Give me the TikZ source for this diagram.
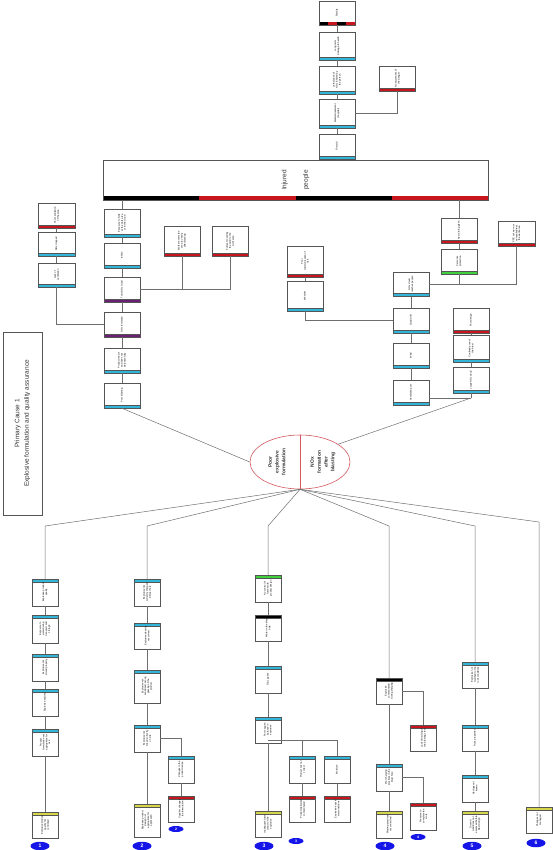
\documentclass[tikz,border=0pt]{standalone}
\usepackage{fontspec}
\setmainfont{Liberation Sans}
\usetikzlibrary{shapes.geometric,calc}

\definecolor{boxline}{HTML}{555555}
\definecolor{wiregray}{HTML}{6E6E6E}
\definecolor{barblue}{HTML}{33B5D9}
\definecolor{barred}{HTML}{C8161E}
\definecolor{barpurple}{HTML}{6B1F75}
\definecolor{bargreen}{HTML}{3FCF3F}
\definecolor{baryellow}{HTML}{D6D64A}
\definecolor{badge}{HTML}{1515E8}
\definecolor{ellred}{HTML}{D0585E}
\definecolor{textgray}{HTML}{333333}

\newcommand{\rt}[1]{\rotatebox{90}{\parbox{19pt}{\centering #1}}}

\tikzset{
  evt/.style={draw=boxline, line width=0.5pt, fill=white, inner sep=0pt,
    minimum width=36pt, minimum height=25pt, font=\fontsize{2.4}{2.9}\selectfont},
  low/.style={evt, minimum width=26pt, minimum height=27pt},
  barlow/.style={path picture={
    \fill[#1] (path picture bounding box.south west) rectangle ([yshift=3pt]path picture bounding box.south east);
    \draw[boxline, line width=0.3pt] ([yshift=3pt]path picture bounding box.south west) -- ([yshift=3pt]path picture bounding box.south east);}},
  bartop/.style={path picture={
    \fill[#1] (path picture bounding box.north west) rectangle ([yshift=-3pt]path picture bounding box.north east);
    \draw[boxline, line width=0.3pt] ([yshift=-3pt]path picture bounding box.north west) -- ([yshift=-3pt]path picture bounding box.north east);}},
  mixbar/.style={path picture={
    \foreach \i/\c in {0/black,1/barred,2/black,3/barred}
      \fill[\c] ($(path picture bounding box.south west)!\i/4!(path picture bounding box.south east)$) rectangle
        ($(path picture bounding box.south west)!{(\i+1)/4}!(path picture bounding box.south east)+(0pt,#1)$);}},
  wire/.style={draw=wiregray, line width=0.5pt},
  num/.style={ellipse, fill=badge, inner sep=0pt, minimum width=19pt, minimum height=8.5pt,
    text=white, font=\fontsize{5}{5}\selectfont\bfseries},
  subnum/.style={num, minimum width=15pt, minimum height=6pt, font=\fontsize{3.5}{3.5}\selectfont\bfseries},
}

\begin{document}
\begin{tikzpicture}[x=1pt,y=-1pt]
\useasboundingbox (0,0) rectangle (552,850);

% Primary cause
\node[draw=boxline, line width=0.6pt, minimum width=39pt, minimum height=183pt, inner sep=0pt,
  text=textgray, font=\fontsize{6.5}{9.5}\selectfont] (pc) at (22.5,423.5)
  {\rotatebox{90}{\parbox{175pt}{\centering Primary Cause 1\\Explosive formulation and quality assurance}}};

% Consequence chain
\node[evt, mixbar=3pt, minimum height=24pt] (fatal) at (337,13) {\rt{Fatality}};
\node[evt, barlow=barblue, minimum height=28pt] (health) at (337,46) {\rt{Long term damage to health}};
\node[evt, barlow=barblue, minimum height=28pt] (dose) at (337,80) {\rt{Lethal dose of NOx inhaled by the person}};
\node[evt, barlow=barblue, minimum height=29pt] (medic) at (337,113.5) {\rt{Medical treatment (hospital)}};
\node[evt, barlow=barred] (aware) at (397.5,78.5) {\rt{No awareness of the danger}};
\node[evt, barlow=barblue] (aid) at (337,146.5) {\rt{First aid}};

% Injured people
\node[draw=boxline, line width=0.5pt, fill=white, inner sep=0pt, minimum width=385pt, minimum height=38pt,
  mixbar=3.5pt, text=textgray, font=\fontsize{6.5}{7.5}\selectfont] (inj) at (295.5,180)
  {\rotatebox{90}{\parbox{40pt}{\centering Injured\\[14pt]people}}};

% Left branch
\node[evt, barlow=barblue, minimum height=28pt] (a1) at (122,223) {\rt{Exposure to NOx at the work area or in the cloud}};
\node[evt, barlow=barblue] (a2) at (122,255.5) {\rt{Inhale}};
\node[evt, barlow=barpurple] (a3) at (122,289.5) {\rt{Toxic NOx cloud}};
\node[evt, barlow=barpurple] (a4) at (122,324.5) {\rt{NOx formation}};
\node[evt, barlow=barblue] (a5) at (122,360.5) {\rt{Product reacts and does not detonate fully}};
\node[evt, barlow=barblue] (a6) at (122,395.5) {\rt{Poor blasting}};
\node[evt, barlow=barred, minimum height=30pt] (b1) at (182,241) {\rt{Worker enters the area too early after blasting}};
\node[evt, barlow=barred, minimum height=30pt] (b2) at (230,241) {\rt{Fumes moved by the wind to the work area}};
\node[evt, barlow=barred, minimum width=37pt] (c1) at (56.5,215.5) {\rt{Poor ventilation of the area}};
\node[evt, barlow=barblue, minimum width=37pt, minimum height=24pt] (c2) at (56.5,244) {\rt{NOx trapped}};
\node[evt, barlow=barblue, minimum width=37pt, minimum height=24pt] (c3) at (56.5,275) {\rt{Lack of ventilation}};

% Right branch
\node[evt, barlow=barred] (d1) at (459,230.5) {\rt{No warning given}};
\node[evt, barlow=bargreen] (d2) at (459,261.5) {\rt{Personal protection}};
\node[evt, barlow=barred, minimum width=37pt] (d3) at (516.5,233.5) {\rt{PPE not worn or not available at the work area}};
\node[evt, barlow=barblue, minimum height=24pt] (e1) at (411,284.5) {\rt{NOx cloud reaches people}};
\node[evt, barlow=barblue] (e2) at (411,320.5) {\rt{Cloud drift}};
\node[evt, barlow=barblue] (e3) at (411,355.5) {\rt{Wind}};
\node[evt, barlow=barblue] (e4) at (411,392.5) {\rt{Ventilation poor}};
\node[evt, barlow=barred, minimum height=31pt] (f1) at (305,261.5) {\rt{Poor communication of risk}};
\node[evt, barlow=barblue, minimum height=30pt] (f2) at (305,296) {\rt{Weather}};
\node[evt, barlow=barred] (g1) at (471,320.5) {\rt{Poor design}};
\node[evt, barlow=barblue, minimum height=27pt] (g2) at (471,348.5) {\rt{Confined area of the blast}};
\node[evt, barlow=barblue, minimum height=26pt] (g3) at (471,380) {\rt{Large NOx cloud}};
\coordinate (gj) at (471,398);

% Top event
\node[ellipse, draw=ellred, line width=0.6pt, inner sep=0pt, minimum width=100pt, minimum height=54pt] (ell) at (300,462) {};
\node[text=textgray, font=\fontsize{4.9}{6.8}\selectfont\bfseries] (poor) at (277,462)
  {\rotatebox{90}{\parbox{40pt}{\centering Poor\\explosive\\formulation}}};
\node[text=textgray, font=\fontsize{4.9}{6.8}\selectfont\bfseries] (nox) at (323,462)
  {\rotatebox{90}{\parbox{40pt}{\centering NOx\\formation\\after\\blasting}}};

% Cause 1
\node[low, bartop=barblue] (h1) at (45,592.5) {\rt{Explosive product quality}};
\node[low, bartop=barblue, minimum height=28pt] (h2) at (45,629) {\rt{Exposure to water during transport and storage}};
\node[low, bartop=barblue] (h3) at (45,667.5) {\rt{Explosive not stored properly}};
\node[low, bartop=barblue] (h4) at (45,702.5) {\rt{Explosive expired}};
\node[low, bartop=barblue] (h5) at (45,742.5) {\rt{Product formulation not appropriate for use}};
\node[low, bartop=baryellow, minimum height=26pt] (h6) at (45,825) {\rt{Explosive product quality not controlled}};
% Cause 2
\node[low, bartop=barblue] (i1) at (147,592.5) {\rt{Explosive not correctly charged in blast hole}};
\node[low, bartop=barblue, minimum height=26pt] (i2) at (147,636) {\rt{Explosive density not correct}};
\node[low, bartop=barblue, minimum height=33pt] (i3) at (147,686.5) {\rt{Explosive not sensitised, wrong gassing of the product}};
\node[low, bartop=barblue] (i4) at (147,738.5) {\rt{Explosive not mixed correctly on site}};
\node[low, bartop=baryellow, minimum height=33pt] (i5) at (147,820.5) {\rt{Explosive product design not appropriate for application}};
\node[low, bartop=barblue] (j1) at (181,769.5) {\rt{Changes to the product recipe}};
\node[low, bartop=barred, minimum height=26pt] (j2) at (181,809) {\rt{Supplier changes the formulation}};
% Cause 3
\node[low, bartop=bargreen] (k1) at (268,588.5) {\rt{No control of fumes with product design}};
\node[low, bartop=black, minimum height=26pt] (k2) at (268,628) {\rt{Water in the blast hole}};
\node[low, bartop=barblue] (k3) at (268,679.5) {\rt{Toxic gases}};
\node[low, bartop=barblue, minimum height=26pt] (k4) at (268,730) {\rt{Poor oxygen balance in explosive}};
\node[low, bartop=baryellow, minimum height=26pt] (k5) at (268,824) {\rt{Inadequate fume control of the explosive}};
\node[low, bartop=barblue] (l1) at (302.5,769.5) {\rt{Product mix not correct}};
\node[low, bartop=barred, minimum height=26pt] (l2) at (302.5,809) {\rt{Product delivered contaminated}};
\node[low, bartop=barblue] (m1) at (337,769.5) {\rt{Moisture}};
\node[low, bartop=barred, minimum height=26pt] (m2) at (337,809) {\rt{Explosive kept in wet conditions}};
\coordinate (kj) at (268,740);
% Cause 4
\node[low, bartop=black, minimum height=26pt] (n1) at (389,691) {\rt{Explosive contaminated during charging}};
\node[low, bartop=barblue] (n2) at (389,777.5) {\rt{Poor charging practices in the blast hole}};
\node[low, bartop=baryellow] (n3) at (389,824.5) {\rt{Blasting practices not controlled}};
\node[low, bartop=barred, minimum height=26pt] (o1) at (423.5,738) {\rt{Lack of training of the blasting crew}};
\node[low, bartop=barred] (o2) at (423.5,816.5) {\rt{Pressure to complete the work}};
% Cause 5
\node[low, bartop=barblue, minimum height=26pt] (p1) at (475,675) {\rt{Explosive not matched to the rock conditions}};
\node[low, bartop=barblue, minimum height=26pt] (p2) at (475,738) {\rt{Rock properties}};
\node[low, bartop=barblue] (p3) at (475,788.5) {\rt{Geology not known}};
\node[low, bartop=baryellow] (p4) at (475,824.5) {\rt{Ground conditions not assessed before blast design}};
% Cause 6
\node[low, bartop=baryellow, minimum height=26pt] (q1) at (539,820) {\rt{Changes not managed}};

% Numbers
\node[num] (n1b) at (40,846) {1};
\node[num] (n2b) at (142,846) {2};
\node[num] (n3b) at (264,846) {3};
\node[num] (n4b) at (385,846) {4};
\node[num] (n5b) at (472,846) {5};
\node[num] (n6b) at (536,843) {6};
\node[subnum] (s2) at (176,829) {2};
\node[subnum] (s3) at (296,841) {3};
\node[subnum] (s4) at (418,837) {4};

% Bends
\coordinate (t1) at (45,526);
\coordinate (t2) at (147,526);
\coordinate (t3) at (268,526);
\coordinate (t4) at (389,526);
\coordinate (t5) at (475,526);
\coordinate (t6) at (539,522);

% Connectors
\draw[wire] (fatal) -- (health) -- (dose) -- (medic) -- (aid);
\draw[wire] (medic.east) -| (aware.south);
\draw[wire] (aid) -- (aid |- inj.north);

\draw[wire] (a1.north) -- (a1.north |- inj.south);
\draw[wire] (a1) -- (a2) -- (a3) -- (a4) -- (a5) -- (a6);
\draw[wire] (a3.east) -| (b2.south);
\draw[wire] (b1.south) -- (b1.south |- a3.east);
\draw[wire] (c1) -- (c2) -- (c3);
\draw[wire] (a4.west) -| (c3.south);

\draw[wire] (d1.north) -- (d1.north |- inj.south);
\draw[wire] (d1) -- (d2);
\draw[wire] (e1.east) -| (d3.south);
\draw[wire] (d2.south) -- (d2.south |- e1.east);
\draw[wire] (e1) -- (e2) -- (e3) -- (e4);
\draw[wire] (e2.west) -| (f2.south);
\draw[wire] (f1) -- (f2);
\draw[wire] (g1) -- (g2) -- (g3) -- (gj);
\draw[wire] (e4.east |- gj) -- (gj);

\draw[wire] (a6.south) -- (ell.west);
\draw[wire] (gj) -- (ell.25);
\draw[ellred, line width=0.6pt] (ell.north) -- (ell.south);

\foreach \t/\b in {t1/h1,t2/i1,t3/k1,t4/n1,t5/p1,t6/q1}
  \draw[wire] (ell.south) -- (\t) -- (\b.north);

\draw[wire] (h1) -- (h2) -- (h3) -- (h4) -- (h5) -- (h6);
\draw[wire] (i1) -- (i2) -- (i3) -- (i4) -- (i5);
\draw[wire] (i4.east) -| (j1.north);
\draw[wire] (j1) -- (j2);
\draw[wire] (k1) -- (k2) -- (k3) -- (k4) -- (k5);
\draw[wire] (kj) -| (m1.north);
\draw[wire] (l1.north) -- (l1.north |- kj);
\draw[wire] (l1) -- (l2);
\draw[wire] (m1) -- (m2);
\draw[wire] (n1) -- (n2) -- (n3);
\draw[wire] (n1.east) -| (o1.north);
\draw[wire] (n2.east) -| (o2.north);
\draw[wire] (p1) -- (p2) -- (p3) -- (p4);

\end{tikzpicture}
\end{document}
